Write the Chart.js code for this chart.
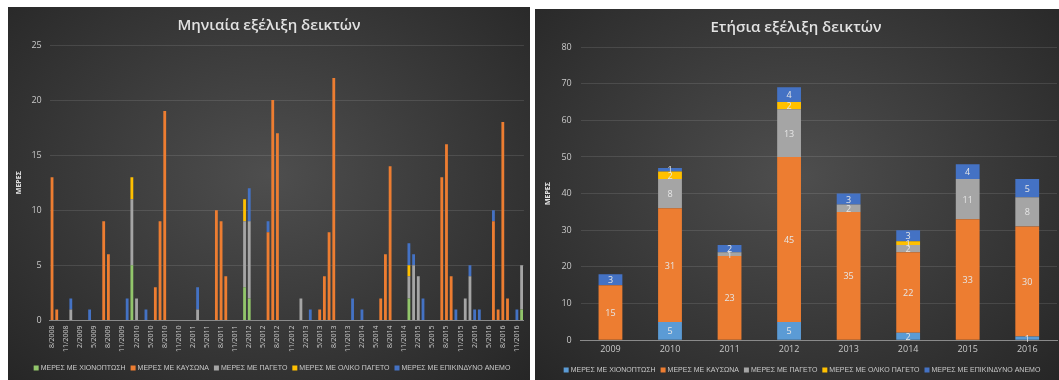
<!DOCTYPE html>
<html>
<head>
<meta charset="utf-8">
<script src="https://cdn.jsdelivr.net/npm/chart.js@4"></script>
<style>
  body { margin: 0; background: #fff; width: 1059px; height: 380px; overflow: hidden; position: relative; }
  .panel { position: absolute; background: radial-gradient(ellipse at 50% 45%, #4e4e4e 0%, #3c3c3c 45%, #262626 100%); }
  #leftPanel { left: 8px; top: 7px; width: 522px; height: 373px; }
  #rightPanel { left: 535px; top: 9px; width: 524px; height: 371px; }
</style>
</head>
<body>
<div class="panel" id="leftPanel"><canvas id="monthChart" width="522" height="373"></canvas></div>
<div class="panel" id="rightPanel"><canvas id="yearChart" width="524" height="371"></canvas></div>
<script>
// series names
const seriesNames = ['ΜΕΡΕΣ ΜΕ ΧΙΟΝΟΠΤΩΣΗ', 'ΜΕΡΕΣ ΜΕ ΚΑΥΣΩΝΑ', 'ΜΕΡΕΣ ΜΕ ΠΑΓΕΤΟ', 'ΜΕΡΕΣ ΜΕ ΟΛΙΚΟ ΠΑΓΕΤΟ', 'ΜΕΡΕΣ ΜΕ ΕΠΙΚΙΝΔΥΝΟ ΑΝΕΜΟ'];

// monthly categories: 8/2008 .. 12/2016
const monthLabels = [];
for (let y = 2008; y <= 2016; y++) {
  for (let m = (y === 2008 ? 8 : 1); m <= 12; m++) monthLabels.push(m + '/' + y);
}

// monthly values, one row per year (2008 starts in August)
const snowMonthly = [
  0,0,0,0,0,
  0,0,0,0,0,0,0,0,0,0,0,0,
  5,0,0,0,0,0,0,0,0,0,0,0,
  0,0,0,0,0,0,0,0,0,0,0,0,
  3,2,0,0,0,0,0,0,0,0,0,0,
  0,0,0,0,0,0,0,0,0,0,0,0,
  0,0,0,0,0,0,0,0,0,0,0,2,
  0,0,0,0,0,0,0,0,0,0,0,0,
  0,0,0,0,0,0,0,0,0,0,0,1
];
const heatMonthly = [
  13,1,0,0,0,
  0,0,0,0,0,0,9,6,0,0,0,0,
  0,0,0,0,0,3,9,19,0,0,0,0,
  0,0,0,0,0,0,10,9,4,0,0,0,
  0,0,0,0,0,8,20,17,0,0,0,0,
  0,0,0,0,1,4,8,22,0,0,0,0,
  0,0,0,0,0,2,6,14,0,0,0,0,
  0,0,0,0,0,0,13,16,4,0,0,0,
  0,0,0,0,0,9,1,18,2,0,0,0
];
const frostMonthly = [
  0,0,0,0,1,
  0,0,0,0,0,0,0,0,0,0,0,0,
  6,2,0,0,0,0,0,0,0,0,0,0,
  0,0,1,0,0,0,0,0,0,0,0,0,
  6,7,0,0,0,0,0,0,0,0,0,0,
  2,0,0,0,0,0,0,0,0,0,0,0,
  0,0,0,0,0,0,0,0,0,0,0,2,
  5,4,0,0,0,0,0,0,0,0,0,2,
  4,0,0,0,0,0,0,0,0,0,0,4
];
const iceMonthly = [
  0,0,0,0,0,
  0,0,0,0,0,0,0,0,0,0,0,0,
  2,0,0,0,0,0,0,0,0,0,0,0,
  0,0,0,0,0,0,0,0,0,0,0,0,
  2,0,0,0,0,0,0,0,0,0,0,0,
  0,0,0,0,0,0,0,0,0,0,0,0,
  0,0,0,0,0,0,0,0,0,0,0,1,
  0,0,0,0,0,0,0,0,0,0,0,0,
  0,0,0,0,0,0,0,0,0,0,0,0
];
const windMonthly = [
  0,0,0,0,1,
  0,0,0,1,0,0,0,0,0,0,0,2,
  0,0,0,1,0,0,0,0,0,0,0,0,
  0,0,2,0,0,0,0,0,0,0,0,0,
  0,3,0,0,0,1,0,0,0,0,0,0,
  0,0,1,0,0,0,0,0,0,0,0,2,
  0,1,0,0,0,0,0,0,0,0,0,2,
  1,0,2,0,0,0,0,0,0,1,0,0,
  1,1,1,0,0,1,0,0,0,0,1,0
];

// yearly values
const years = ['2009', '2010', '2011', '2012', '2013', '2014', '2015', '2016'];
const snowYearly  = [0, 5, 0, 5, 0, 2, 0, 1];
const heatYearly  = [15, 31, 23, 45, 35, 22, 33, 30];
const frostYearly = [0, 8, 1, 13, 2, 2, 11, 8];
const iceYearly   = [0, 2, 0, 2, 0, 1, 0, 0];
const windYearly  = [3, 1, 2, 4, 3, 3, 4, 5];

const textColor = '#c9c9c9';
const gridColor = 'rgba(255,255,255,0.11)';
const fontName = '"Open Sans", "DejaVu Sans", sans-serif';

// numbers inside the stacked bars
const barLabels = {
  id: 'barLabels',
  afterDatasetsDraw(chart) {
    const ctx = chart.ctx;
    ctx.save();
    ctx.font = '9px ' + fontName;
    ctx.fillStyle = '#e6e6e6';
    ctx.textAlign = 'center';
    ctx.textBaseline = 'middle';
    chart.data.datasets.forEach((ds, i) => {
      chart.getDatasetMeta(i).data.forEach((bar, j) => {
        const v = ds.data[j];
        if (!v) return;
        ctx.fillText(v, bar.x, (bar.y + bar.base) / 2 + 1);
      });
    });
    ctx.restore();
  }
};

// one-line legend under the axis (the built-in one wraps)
const lineLegend = {
  id: 'lineLegend',
  afterDraw(chart, args, opts) {
    const ctx = chart.ctx;
    ctx.save();
    ctx.font = '7px "Liberation Sans", Arial, sans-serif';
    ctx.textBaseline = 'middle';
    const box = 5, gapBox = 2, gapItem = 5;
    const items = chart.data.datasets.map(ds => ({ text: ds.label, color: ds.backgroundColor, w: ctx.measureText(ds.label).width }));
    const total = items.reduce((s, it) => s + box + gapBox + it.w, 0) + gapItem * (items.length - 1);
    let x = (chart.width - total) / 2 + (opts.shift || 0);
    items.forEach(it => {
      ctx.fillStyle = it.color;
      ctx.fillRect(x, opts.y - box / 2, box, box);
      x += box + gapBox;
      ctx.fillStyle = textColor;
      ctx.fillText(it.text, x, opts.y + 0.5);
      x += it.w + gapItem;
    });
    ctx.restore();
  }
};

function makeOptions(title, yMax, yStep, xTicks, pad, legend, yTitlePad, yTickPad, tickLen) {
  return {
    responsive: false,
    animation: false,
    layout: { padding: pad },
    plugins: {
      title: {
        display: true, text: title, color: '#e2e2e2',
        font: { family: fontName, size: 15, weight: '600' },
        padding: { top: 4, bottom: 10 }
      },
      legend: { display: false },
      lineLegend: legend,
      tooltip: { enabled: false }
    },
    scales: {
      x: {
        stacked: true,
        grid: { display: false, drawTicks: true, tickLength: tickLen },
        border: { color: '#8a8a8a' },
        ticks: xTicks
      },
      y: {
        stacked: true,
        min: 0, max: yMax,
        title: { display: true, text: 'ΜΕΡΕΣ', color: '#e2e2e2', font: { family: fontName, size: 7, weight: 'bold' }, padding: yTitlePad },
        grid: { color: gridColor, drawTicks: false },
        border: { display: false },
        ticks: { stepSize: yStep, color: textColor, padding: yTickPad, font: { family: fontName, size: 9 } }
      }
    }
  };
}

const monthColors = ['#92c66b', '#ED7D31', '#A5A5A5', '#FFC000', '#4472C4'];
const monthData = [snowMonthly, heatMonthly, frostMonthly, iceMonthly, windMonthly];

new Chart(document.getElementById('monthChart'), {
  type: 'bar',
  data: {
    labels: monthLabels,
    datasets: monthData.map((d, i) => ({
      label: seriesNames[i], data: d, backgroundColor: monthColors[i],
      barPercentage: 0.6, categoryPercentage: 1
    }))
  },
  options: makeOptions('Μηνιαία εξέλιξη δεικτών', 25, 5, {
    autoSkip: false, maxRotation: 90, minRotation: 90, color: textColor, padding: 0,
    font: { family: fontName, size: 7 },
    callback: (v, i) => (i % 3 === 0 ? monthLabels[i] : '')
  }, { left: 0, right: 0, top: 6, bottom: 28 }, { y: 361, shift: 3 },
  { top: 7, bottom: 0 }, 8, 5),
  plugins: [lineLegend]
});

const yearColors = ['#5B9BD5', '#ED7D31', '#A5A5A5', '#FFC000', '#4472C4'];
const yearData = [snowYearly, heatYearly, frostYearly, iceYearly, windYearly];

new Chart(document.getElementById('yearChart'), {
  type: 'bar',
  data: {
    labels: years,
    datasets: yearData.map((d, i) => ({
      label: seriesNames[i], data: d, backgroundColor: yearColors[i],
      barPercentage: 0.4, categoryPercentage: 1
    }))
  },
  options: makeOptions('Ετήσια εξέλιξη δεικτών', 80, 10, {
    color: textColor, font: { family: fontName, size: 9 }, maxRotation: 0, padding: 4
  }, { left: 0, right: 2, top: 6, bottom: 21 }, { y: 361, shift: 5 },
  { top: 9, bottom: 0 }, 9, 0),
  plugins: [barLabels, lineLegend]
});
</script>
</body>
</html>
